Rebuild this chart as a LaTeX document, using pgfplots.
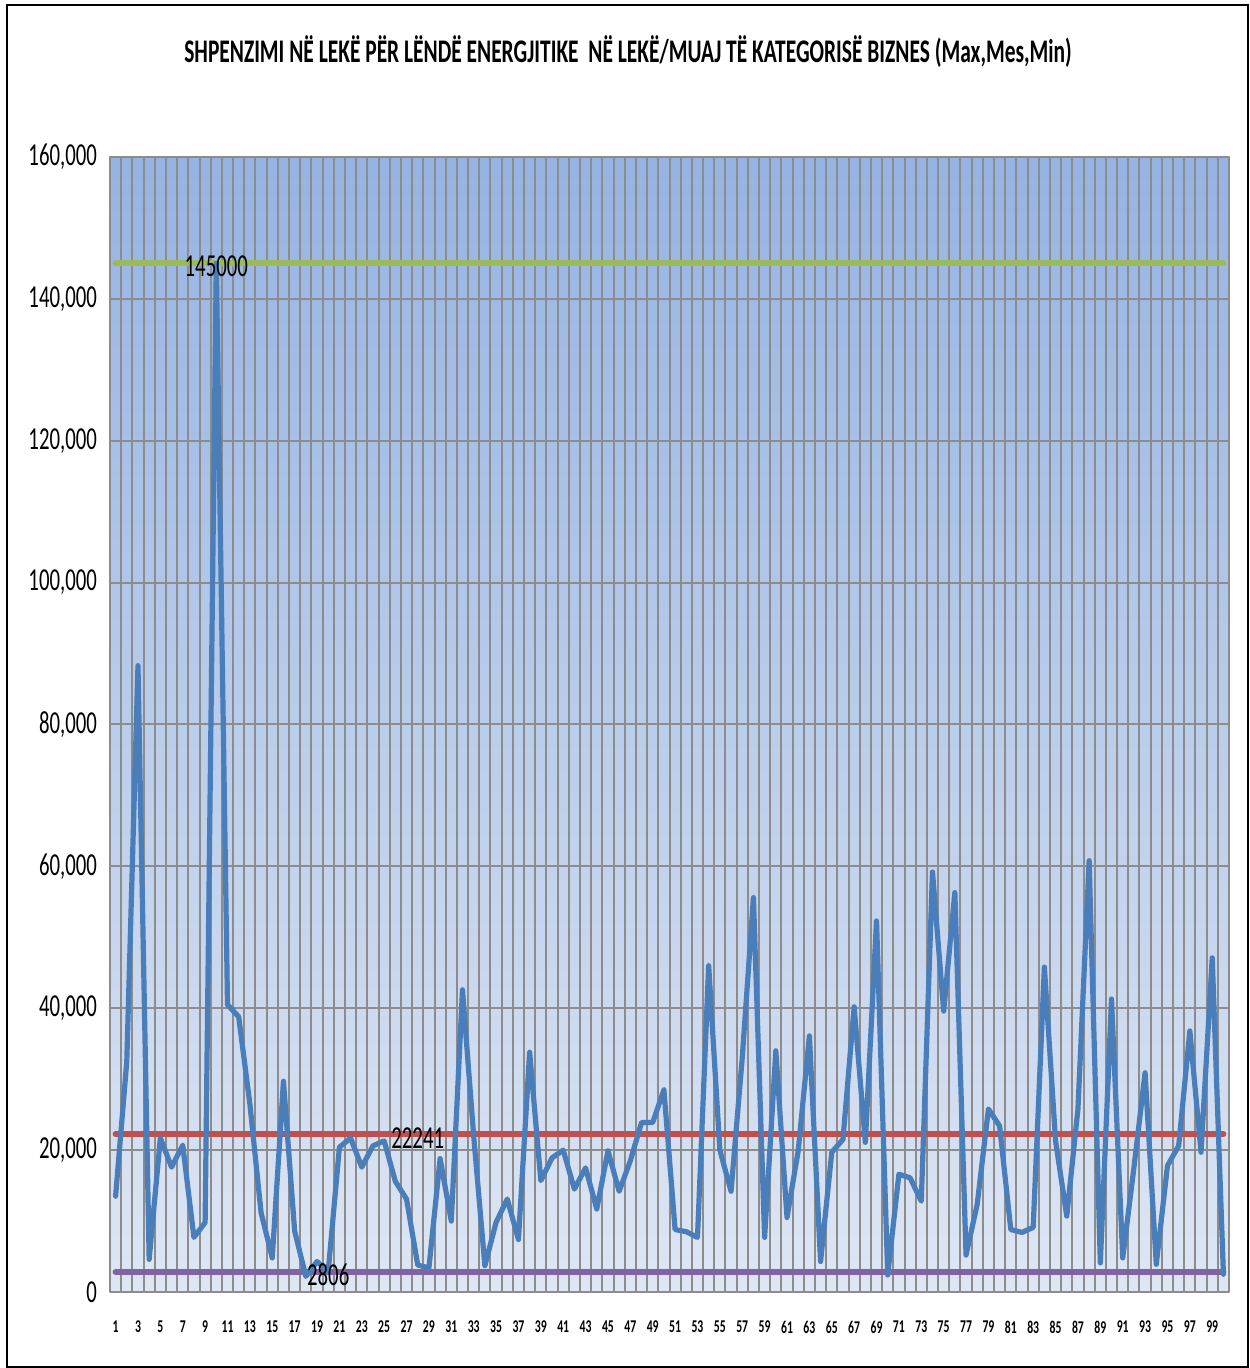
\documentclass[border=0pt]{standalone}
\usepackage{fontspec}
\setmainfont{Carlito}[FakeStretch=0.65]
\usepackage{pgfplots}
\pgfplotsset{compat=1.18}

\definecolor{serblue}{RGB}{74,126,187}
\definecolor{sergreen}{RGB}{155,187,89}
\definecolor{serred}{RGB}{192,80,77}
\definecolor{serpurple}{RGB}{128,100,162}
\definecolor{gridgray}{RGB}{140,140,140}
\definecolor{bgtop}{RGB}{149,179,227}
\definecolor{bgbot}{RGB}{222,230,243}

% monthly spending per business (lek)
\pgfplotstableread{
x y
1 13500
2 32500
3 88300
4 4600
5 21700
6 17600
7 20700
8 7700
9 9800
10 145000
11 40500
12 38800
13 26500
14 11200
15 4800
16 29700
17 8600
18 2200
19 4300
20 2900
21 20400
22 21700
23 17600
24 20600
25 21300
26 15600
27 13100
28 3800
29 3400
30 18800
31 10000
32 42600
33 22000
34 3700
35 9800
36 13100
37 7400
38 33800
39 15700
40 18900
41 20000
42 14500
43 17500
44 11700
45 19900
46 14200
47 18500
48 23900
49 23900
50 28500
51 8800
52 8500
53 7700
54 46000
55 20000
56 14200
57 33000
58 55600
59 7700
60 34000
61 10500
62 19900
63 36100
64 4300
65 19700
66 21500
67 40200
68 21100
69 52300
70 2400
71 16600
72 16100
73 12800
74 59200
75 39600
76 56300
77 5200
78 12400
79 25800
80 23400
81 8800
82 8400
83 9100
84 45800
85 21300
86 10700
87 25800
88 60800
89 4100
90 41300
91 4800
92 17500
93 30900
94 3900
95 17800
96 20600
97 36800
98 19700
99 47100
100 2500
}\spending

\begin{document}
\begin{tikzpicture}
\path[use as bounding box] (0,0) rectangle (624.5pt,684pt);
\draw[black, line width=1pt] (3.5pt,0.5pt) rectangle (624pt,681.5pt);

\node[font=\bfseries\fontsize{16.5}{16.5}\selectfont] at (314pt,658pt)
  {SHPENZIMI NË LEKË PËR LËNDË ENERGJITIKE\ \ NË LEKË/MUAJ TË KATEGORISË BIZNES (Max,Mes,Min)};

\begin{axis}[
  at={(55pt,38pt)}, anchor=south west,
  scale only axis,
  width=559.5pt, height=567.5pt,
  xmin=0.5, xmax=100.5,
  ymin=0, ymax=160000,
  axis background/.style={shade, top color=bgtop, bottom color=bgbot},
  axis line style={gridgray, line width=1pt},
  xtick={1,3,...,99},
  minor xtick={0.5,1.5,...,100.5},
  ytick={0,20000,...,160000},
  major tick length=0pt, minor tick length=0pt,
  xminorgrids, ymajorgrids,
  minor x grid style={gridgray, line width=1pt},
  major y grid style={gridgray, line width=1pt},
  scaled y ticks=false,
  /pgf/number format/assume math mode=true,
  y tick label style={/pgf/number format/fixed, /pgf/number format/precision=0,
    /pgf/number format/1000 sep={,}, font=\fontsize{16}{16}\selectfont, xshift=-3pt},
  x tick label style={font=\bfseries\fontsize{9}{9}\selectfont, yshift=-11pt},
  line join=round,
]
\addplot[sergreen, line width=3pt, line cap=round] coordinates {(1,145000) (100,145000)};
\addplot[serred, line width=3pt, line cap=round] coordinates {(1,22241) (100,22241)};
\addplot[serpurple, line width=3pt, line cap=round] coordinates {(1,2806) (100,2806)};
\addplot[serblue, line width=2.6pt, line cap=round, mark=none] table[x=x, y=y] {\spending};

\node[font=\fontsize{16}{16}\selectfont, yshift=-1.5pt] at (axis cs:10,145000) {145000};
\node[font=\fontsize{16}{16}\selectfont, yshift=-1.8pt] at (axis cs:28,22241) {22241};
\node[font=\fontsize{16}{16}\selectfont, yshift=-1.5pt] at (axis cs:20,2806) {2806};
\end{axis}
\end{tikzpicture}
\end{document}
